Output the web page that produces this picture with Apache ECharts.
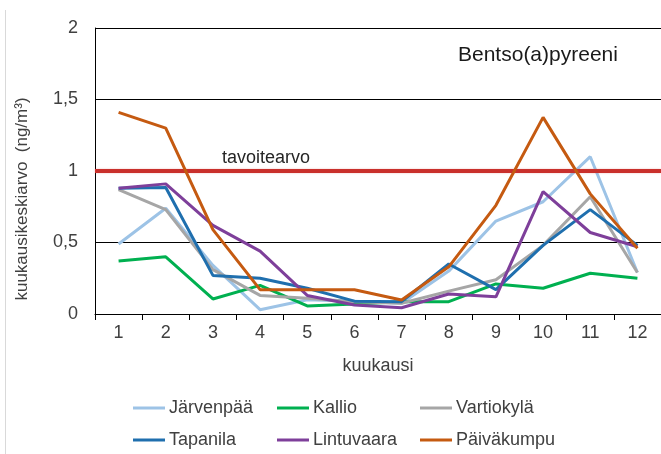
<!DOCTYPE html>
<html>
<head>
<meta charset="utf-8">
<script src="https://cdn.jsdelivr.net/npm/echarts@6/dist/echarts.min.js"></script>
<style>
  html, body { margin: 0; padding: 0; background: #fff; }
  #chart { width: 661px; height: 454px; }
</style>
</head>
<body>
<div id="chart"></div>
<script>
// kuukaudet 1-12
const months = ['1', '2', '3', '4', '5', '6', '7', '8', '9', '10', '11', '12']

// kuukausikeskiarvot (ng/m3), luettu kuvasta
const jarvenpaa  = [0.49, 0.74, 0.34, 0.03, 0.10, 0.09, 0.075, 0.30, 0.65, 0.785, 1.10, 0.29]
const kallio     = [0.37, 0.40, 0.105, 0.20, 0.056, 0.07, 0.086, 0.086, 0.21, 0.18, 0.285, 0.25]
const vartiokyla = [0.87, 0.73, 0.31, 0.13, 0.11, 0.085, 0.075, 0.16, 0.24, 0.48, 0.82, 0.29]
const tapanila   = [0.88, 0.885, 0.27, 0.25, 0.18, 0.09, 0.086, 0.35, 0.17, 0.48, 0.73, 0.48]
const lintuvaara = [0.88, 0.91, 0.62, 0.44, 0.13, 0.063, 0.044, 0.14, 0.12, 0.855, 0.57, 0.47]
const paivakumpu = [1.41, 1.30, 0.59, 0.17, 0.17, 0.17, 0.098, 0.33, 0.76, 1.375, 0.84, 0.46]

const targetValue = 1
const yTicks = [0, 0.5, 1, 1.5, 2]

const names = ['Järvenpää', 'Kallio', 'Vartiokylä', 'Tapanila', 'Lintuvaara', 'Päiväkumpu']
const values = [jarvenpaa, kallio, vartiokyla, tapanila, lintuvaara, paivakumpu]
const colors = ['#9DC3E6', '#00B050', '#A6A6A6', '#1F6FAE', '#7E3F9A', '#C55A11']

const font = 'Liberation Sans, Arial, sans-serif'
const textColor = '#404040'

let chart = echarts.init(document.getElementById('chart'))

let series = names.map((name, i) => ({
  name: name,
  type: 'line',
  data: values[i],
  symbol: 'none',
  lineStyle: { width: 3, color: colors[i] },
  itemStyle: { color: colors[i] },
  z: 2 + i
}))

// tavoitearvo-viiva
series[series.length - 1].markLine = {
  silent: true,
  symbol: 'none',
  label: { show: false },
  lineStyle: { color: '#C9302C', width: 4, type: 'solid', shadowColor: 'rgba(220,80,80,0.4)', shadowBlur: 2 },
  data: [{ yAxis: targetValue }]
}

// legenda kolmessa sarakkeessa
let legendCols = [[0, 3], [1, 4], [2, 5]]
let legendLeft = [133, 277, 420]
let legends = legendCols.map((col, k) => ({
  orient: 'vertical',
  left: legendLeft[k],
  top: 398,
  icon: 'rect',
  itemWidth: 32,
  itemHeight: 3,
  itemGap: 12,
  padding: 0,
  data: col.map(i => names[i]),
  textStyle: { fontFamily: font, fontSize: 18, color: textColor, lineHeight: 20, padding: [0, 0, 0, -1] }
}))

let option = {
  backgroundColor: '#fff',
  animation: false,
  title: [
    {
      text: 'Bentso(a)pyreeni',
      left: 453,
      top: 40,
      textStyle: { fontFamily: font, fontSize: 21, fontWeight: 'normal', color: '#1a1a1a' }
    },
    {
      text: 'tavoitearvo',
      left: 217,
      top: 144,
      textStyle: { fontFamily: font, fontSize: 18, fontWeight: 'normal', color: '#262626' }
    }
  ],
  legend: legends,
  grid: { left: 95, right: 0, top: 28, bottom: 140 },
  xAxis: {
    type: 'category',
    data: months,
    boundaryGap: true,
    name: 'kuukausi',
    nameLocation: 'middle',
    nameGap: 43,
    nameTextStyle: { fontFamily: font, fontSize: 18, color: textColor },
    axisLine: { lineStyle: { color: '#000', width: 1 } },
    axisTick: { show: true, length: 6, lineStyle: { color: '#000' } },
    axisLabel: { fontFamily: font, fontSize: 18, color: textColor, margin: 10 },
    splitLine: { show: false }
  },
  yAxis: {
    type: 'value',
    min: yTicks[0],
    max: yTicks[yTicks.length - 1],
    interval: 0.5,
    axisLine: { show: true, lineStyle: { color: '#000', width: 1 } },
    axisTick: { show: false },
    axisLabel: {
      fontFamily: font, fontSize: 18, color: textColor, margin: 17,
      formatter: v => String(v).replace('.', ',')
    },
    splitLine: { show: true, lineStyle: { color: '#000', width: 1 } }
  },
  graphic: [
    {
      type: 'line',
      shape: { x1: 5.5, y1: 10, x2: 5.5, y2: 454 },
      style: { stroke: '#D9D9D9', lineWidth: 1 },
      silent: true
    },
    {
      type: 'text',
      x: 22,
      y: 199,
      rotation: Math.PI / 2,
      style: {
        text: 'kuukausikeskiarvo  (ng/m³)',
        fontFamily: font,
        fontSize: 17,
        fill: textColor,
        align: 'center',
        verticalAlign: 'middle'
      },
      silent: true
    }
  ],
  series: series
}

chart.setOption(option)
</script>
</body>
</html>
